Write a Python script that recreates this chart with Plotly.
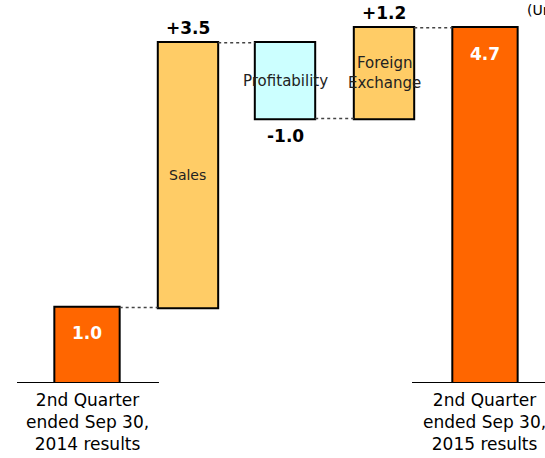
import plotly.graph_objects as go

categories = ["2nd Quarter<br>ended Sep 30,<br>2014 results", "Sales", "Profitability",
              "Foreign<br>Exchange", "2nd Quarter<br>ended Sep 30,<br>2015 results"]
values = [1.0, 3.5, -1.0, 1.2, 4.7]
measures = ["absolute", "relative", "relative", "relative", "total"]
value_labels = ["1.0", "+3.5", "-1.0", "+1.2", "4.7"]
unit_text = "(Unit: billion yen)"

positions = [0, 1.02, 2.0, 3.0, 4.02]
widths = [0.66, 0.61, 0.61, 0.61, 0.66]

ORANGE = "#FF6600"
LIGHT = "#FFCC66"
CYAN = "#CCFFFF"
FONT = "DejaVu Sans"

fig = go.Figure()
fig.add_trace(go.Waterfall(
    x=positions, y=values, measure=measures, width=widths,
    increasing=dict(marker=dict(color=LIGHT, line=dict(color="black", width=2))),
    decreasing=dict(marker=dict(color=CYAN, line=dict(color="black", width=2))),
    totals=dict(marker=dict(color=ORANGE, line=dict(color="black", width=2))),
    connector=dict(mode="between", line=dict(color="#444444", width=1.5, dash="dot")),
    textinfo="none", hoverinfo="skip", showlegend=False,
))

# running levels of each bar
levels = []
run = 0.0
for v, m in zip(values, measures):
    if m == "absolute":
        lo, hi = 0.0, v
        run = v
    elif m == "total":
        lo, hi = 0.0, run
    else:
        lo, hi = sorted([run, run + v])
        run += v
    levels.append((lo, hi))

ann = []
for i in (0, 4):
    ann.append(dict(x=positions[i], y=0, xref="x", yref="y", text=categories[i],
                    showarrow=False, yanchor="top", yshift=-5,
                    font=dict(family=FONT, size=17, color="black")))
for i, sz in zip((1, 2, 3), (14, 15, 15)):
    lo, hi = levels[i]
    ann.append(dict(x=positions[i], y=(lo + hi) / 2, xref="x", yref="y", text=categories[i],
                    showarrow=False, font=dict(family=FONT, size=sz, color="#222222")))
for i in range(5):
    lo, hi = levels[i]
    if measures[i] in ("absolute", "total"):
        ann.append(dict(x=positions[i], y=hi, xref="x", yref="y", text="<b>%s</b>" % value_labels[i],
                        showarrow=False, yanchor="middle", yshift=-26,
                        font=dict(family=FONT, size=17, color="white")))
    elif values[i] > 0:
        ann.append(dict(x=positions[i], y=hi, xref="x", yref="y", text="<b>%s</b>" % value_labels[i],
                        showarrow=False, yanchor="bottom", yshift=3,
                        font=dict(family=FONT, size=17, color="black")))
    else:
        ann.append(dict(x=positions[i], y=lo, xref="x", yref="y", text="<b>%s</b>" % value_labels[i],
                        showarrow=False, yanchor="top", yshift=-6,
                        font=dict(family=FONT, size=17, color="black")))

ann.append(dict(x=525 / 545, y=1.0, xref="paper", yref="paper", text=unit_text, showarrow=False,
                xanchor="left", yanchor="top", font=dict(family=FONT, size=14, color="black")))

shapes = [
    dict(type="line", xref="x", yref="y", x0=-0.707, x1=0.727, y0=0, y1=0,
         line=dict(color="black", width=2)),
    dict(type="line", xref="x", yref="y", x0=3.283, x1=5.0, y0=0, y1=0,
         line=dict(color="black", width=2)),
]

fig.update_layout(
    width=545, height=458,
    margin=dict(l=0, r=0, t=0, b=75, pad=0),
    paper_bgcolor="white", plot_bgcolor="white",
    xaxis=dict(range=[-87 / 99, 458 / 99], visible=False, fixedrange=True),
    yaxis=dict(range=[0, 383 / 75.6], visible=False, fixedrange=True),
    annotations=ann, shapes=shapes,
)

fig.write_html("out.html")
